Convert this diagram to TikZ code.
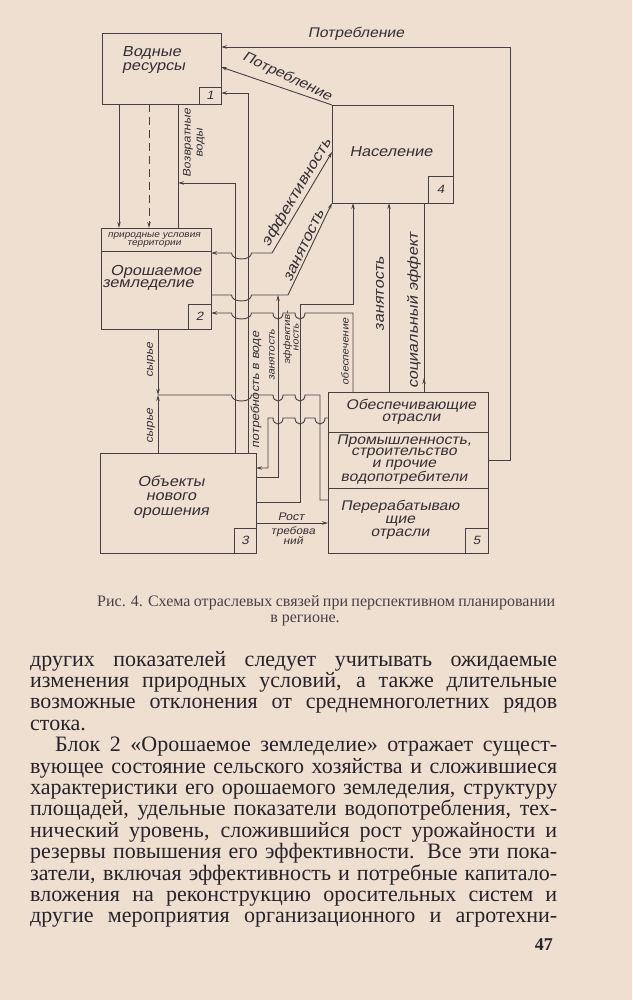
\documentclass[tikz,border=0pt]{standalone}
\usepackage{fontspec}
\setmainfont{Liberation Serif}
\newfontfamily\dfont{Liberation Sans}[FakeSlant=0.2,FakeStretch=1.12]
\usetikzlibrary{arrows.meta}
\definecolor{paper}{RGB}{238,223,208}
\definecolor{ink}{RGB}{70,64,68}
\definecolor{txt}{RGB}{52,46,52}
\definecolor{btxt}{RGB}{40,35,42}
\definecolor{capt}{RGB}{72,64,70}
\newcommand\dfs[2]{\fontsize{#1}{#2}\selectfont}
\tikzset{
  box/.style={draw=ink, line width=0.9pt, rectangle, inner sep=0pt, outer sep=0pt, anchor=north west},
  numbox/.style={draw=ink, line width=0.9pt, rectangle, inner sep=0pt, outer sep=0pt, anchor=south east, text=txt, font=\dfont\dfs{12}{12}},
  conn/.style={draw=ink, line width=0.9pt},
  lab/.style={text=txt, inner sep=0pt, align=center, font=\dfont\dfs{14}{14}},
  small/.style={text=txt, inner sep=0pt, align=center, font=\dfont\dfs{11}{10}},
  tiny/.style={text=txt, inner sep=0pt, align=center, font=\dfont\dfs{9}{8.5}},
  body/.style={text=btxt, inner sep=0pt, anchor=base west, font=\dfs{22}{21.4}, text height=14pt, text depth=4pt},
  hopx/.style args={#1/#2/#3}{insert path={-- (#1-#3,#2) .. controls (#1-#3,#2+8) and (#1+#3,#2+8) .. (#1+#3,#2)}},
  >={Stealth[length=6pt,width=3.4pt]}
}
\begin{document}
\begin{tikzpicture}[x=1pt,y=-1pt]
\fill[paper] (0,0) rectangle (632,1000);
\useasboundingbox (0,0) rectangle (632,1000);

% blocks
\node[box, minimum width=119pt, minimum height=71pt] (b1) at (102,33) {};
\node[box, minimum width=110pt, minimum height=101pt] (b2) at (101,228) {};
\node[box, minimum width=156pt, minimum height=100pt] (b3) at (100,453) {};
\node[box, minimum width=121pt, minimum height=98pt] (b4) at (332,105) {};
\node[box, minimum width=160pt, minimum height=161pt] (b5) at (328,392) {};

\node[numbox, minimum width=22pt, minimum height=17pt] (n1) at (b1.south east) {1};
\node[numbox, minimum width=23pt, minimum height=25pt] (n2) at (b2.south east) {2};
\node[numbox, minimum width=22pt, minimum height=25pt] (n3) at (b3.south east) {3};
\node[numbox, minimum width=25pt, minimum height=27pt] (n4) at (b4.south east) {4};
\node[numbox, minimum width=23pt, minimum height=25pt] (n5) at (b5.south east) {5};

\draw[conn] (b2.west |- 0,251) -- (b2.east |- 0,251);
\draw[conn] (b5.west |- 0,432) -- (b5.east |- 0,432);
\draw[conn] (b5.west |- 0,488) -- (b5.east |- 0,488);

% block texts
\node[lab, align=left, anchor=west, font=\dfont\dfs{14.5}{14}] (t1) at (122,60) {Водные\\ресурсы};
\node[lab, font=\dfont\dfs{14.5}{14}] (t4) at (391,152) {Население};
\node[tiny] (t2h) at (154,240) {природные условия\\территории};
\node[lab, font=\dfont\dfs{14.5}{14}] (t2a) at (156,272) {Орошаемое};
\node[lab, font=\dfont\dfs{14.5}{14}] (t2b) at (148,285.5) {земледелие};
\node[lab, font=\dfont\dfs{14.5}{14.5}] (t3) at (171,497) {Объекты\\нового\\орошения};
\node[lab, font=\dfont\dfs{14}{12}] (t5a) at (411,412) {Обеспечивающие\\отрасли};
\node[lab, font=\dfont\dfs{14}{11.7}] (t5b) at (404,459.5) {Промышленность,\\строительство\\и прочие\\водопотребители};
\node[lab, font=\dfont\dfs{14}{13}] (t5c) at (400,520) {Перерабатываю\\щие\\отрасли};

% connectors
\draw[conn,->] (b5.east |- 0,460) -- (510,460) -- (510,47) -- (b1.east |- 0,47);
\draw[conn,->] (b4.north west) -- (b1.east |- 0,67);
\draw[conn,->] (b1.south -| 119,0) -- (b2.north -| 119,0);
\draw[conn,dash pattern=on 8pt off 5pt,->] (b1.south -| 149,0) -- (b2.north -| 149,0);
\draw[conn] (b2.north -| 178,0) -- (b1.south -| 178,0);
\draw[conn,->] (b3.north -| 235,0) -- (235,183) -- (178,183);
\draw[conn,->] (b3.north -| 248,0) -- (248,93) -- (b1.east |- 0,93);
\draw[conn,<->] (b2.east |- 0,253) [hopx=241.5/253/10] -- (272,253)
   -- node[lab, sloped, above=2pt, pos=0.55, font=\dfont\dfs{15}{15}] (le2) {эффективность} (b4.west |- 0,152);
\draw[conn,->] (b2.east |- 0,295) [hopx=241.5/295/10] -- (288,295)
   -- node[lab, sloped, above=2pt, pos=0.5, font=\dfont\dfs{15}{15}] (lz3) {занятость} (b4.south west);
\draw[conn,<-] (b2.east |- 0,313) [hopx=241.5/313/10] [hopx=278/313/5] [hopx=300/313/5] -- (353,313) -- (b5.north -| 353,0);
\draw[conn,->] (b3.east |- 0,502) -- (300,502) -- (300,304) -- (353,304) -- (b4.south -| 353,0);
\draw[conn,->] (b5.north -| 389,0) -- (b4.south -| 389,0);
\draw[conn] (b5.north -| 424,0) -- (b4.south -| 424,0);
\draw[conn,->] (b5.north -| 424,0) -- ++(0,-14);
\draw[conn,->] (b2.south -| 158,0) -- (158,395);
\draw[conn,->] (b3.north -| 158,0) -- (158,395);
\draw[conn] (158,395) [hopx=241.5/395/10] [hopx=278/395/5] [hopx=300/395/5] -- (320,395) -- (320,500) -- (b5.west |- 0,500);
\draw[conn,->] (b3.east |- 0,477) -- (278,477) -- (278,295);
\draw[conn,<-] (b3.east |- 0,468) -- (268,468) -- (268,418) [hopx=278/418/5] [hopx=300/418/5] [hopx=320/418/5] -- (b5.west |- 0,418);
\draw[conn,->] (b3.east |- 0,523) -- (b5.west |- 0,523);

% connector labels
\node[lab] (lp1) at (356,34) {Потребление};
\node[lab, rotate=-25] (lp2) at (287,77) {Потребление};
\node[small, rotate=90, font=\dfont\dfs{11}{12}] (lvv) at (194,143) {Возвратные\\воды};
\node[small, rotate=90, font=\dfont\dfs{11.5}{12}] (lpv) at (256,390) {потребность в воде};
\node[small, rotate=90, font=\dfont\dfs{10}{9}] (lz1) at (272,355) {занятость};
\node[small, rotate=90, font=\dfont\dfs{9.5}{8.5}] (le1) at (291,338) {эффектив-\\ность};
\node[small, rotate=90, font=\dfont\dfs{10}{9}] (lob) at (345,352) {обеспечение};
\node[lab, rotate=90, font=\dfont\dfs{14.5}{14}] (lz2) at (380,294) {занятость};
\node[lab, rotate=90, font=\dfont\dfs{14.5}{14}] (lse) at (414,311) {социальный эффект};
\node[small, rotate=90] (ls1) at (151,360) {сырье};
\node[small, rotate=90] (ls2) at (151,426) {сырье};
\node[small] (lr1) at (291,517) {Рост};
\node[small, font=\dfont\dfs{10.5}{10}] (lr2) at (293,536) {требова\\ний};

% caption
\node[anchor=base west, text=capt, font=\dfs{16}{16}, inner sep=0pt] (cap1) at (97,606)
  {\makebox[458pt][s]{Рис. 4. Схема отраслевых связей при перспективном планировании}};
\node[anchor=base, text=capt, font=\dfs{16}{16}, inner sep=0pt] (cap2) at (305,622) {в регионе.};

% body text
\node[body] (l0) at (30,666) {\makebox[527pt][s]{других показателей следует учитывать ожидаемые}};
\node[body] (l1) at (30,687.4) {\makebox[527pt][s]{изменения природных условий, а также длительные}};
\node[body] (l2) at (30,708.8) {\makebox[527pt][s]{возможные отклонения от среднемноголетних рядов}};
\node[body] (l3) at (30,730.2) {стока.};
\node[body] (l4) at (55,751.6) {\makebox[502pt][s]{Блок 2 «Орошаемое земледелие» отражает сущест-}};
\node[body] (l5) at (30,773) {\makebox[527pt][s]{вующее состояние сельского хозяйства и сложившиеся}};
\node[body] (l6) at (30,794.4) {\makebox[527pt][s]{характеристики его орошаемого земледелия, структуру}};
\node[body] (l7) at (30,815.8) {\makebox[527pt][s]{площадей, удельные показатели водопотребления, тех-}};
\node[body] (l8) at (30,837.2) {\makebox[527pt][s]{нический уровень, сложившийся рост урожайности и}};
\node[body] (l9) at (30,858.6) {\makebox[527pt][s]{резервы повышения его эффективности. Все эти пока-}};
\node[body] (l10) at (30,880) {\makebox[527pt][s]{затели, включая эффективность и потребные капитало-}};
\node[body] (l11) at (30,901.4) {\makebox[527pt][s]{вложения на реконструкцию оросительных систем и}};
\node[body] (l12) at (30,922.8) {\makebox[527pt][s]{другие мероприятия организационного и агротехни-}};
\node[body, anchor=base east, font=\bfseries\dfs{18}{18}] (pg) at (553,950) {47};
\end{tikzpicture}
\end{document}
